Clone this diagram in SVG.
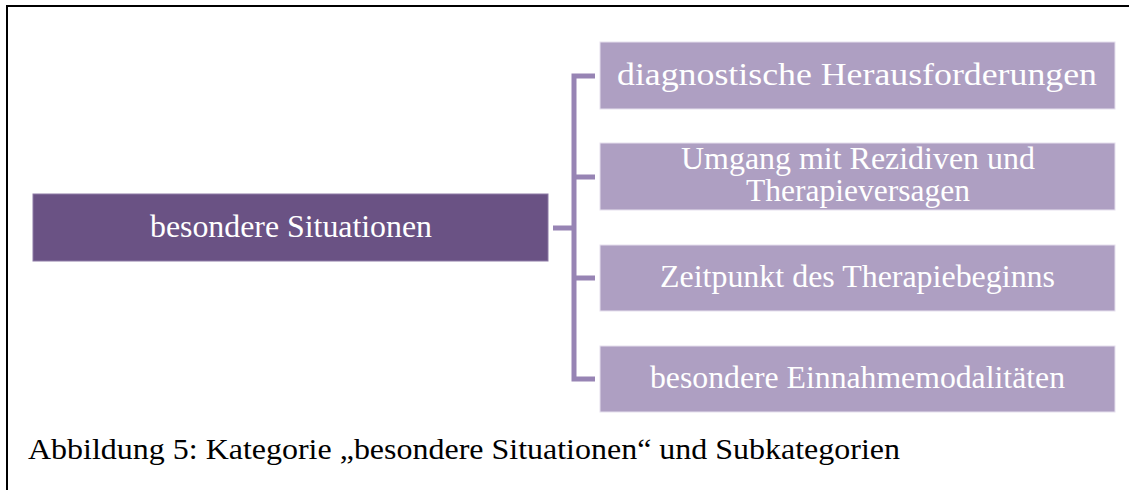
<svg xmlns="http://www.w3.org/2000/svg" width="1129" height="490" viewBox="0 0 1129 490">
<style>
.t{font-family:"Liberation Serif","Times New Roman",serif;font-size:32px;fill:#ffffff;text-anchor:middle}
.child{fill:#ae9fc2;stroke:#e6e0ee;stroke-width:1}
.conn{fill:none;stroke:#9784b4;stroke-width:5}
.cap{font-family:"Liberation Serif","Times New Roman",serif;font-size:30px;fill:#000000}
</style>
<rect width="1129" height="490" fill="#ffffff"/>
<g id="frame">
<line x1="6" y1="6" x2="1129" y2="6" stroke="#000" stroke-width="2"/>
<line x1="7" y1="5" x2="7" y2="490" stroke="#000" stroke-width="2"/>
</g>
<g id="connectors">
<path class="conn" d="M553 228 H574 M595 76 H574 V379 H595 M574 177 H595 M574 278 H595"/>
</g>
<g id="root">
<rect x="33" y="194" width="515" height="67" fill="#6a5284" stroke="#8d7aa6" stroke-width="1"/>
<text class="t" x="291" y="237" textLength="282" lengthAdjust="spacingAndGlyphs">besondere Situationen</text>
</g>
<g id="n1">
<rect class="child" x="600" y="42" width="515" height="67"/>
<text class="t" x="857" y="85" textLength="480" lengthAdjust="spacingAndGlyphs">diagnostische Herausforderungen</text>
</g>
<g id="n2">
<rect class="child" x="600" y="143" width="515" height="67"/>
<text class="t" x="858" y="169" textLength="354" lengthAdjust="spacingAndGlyphs">Umgang mit Rezidiven und</text>
<text class="t" x="858" y="201" textLength="224" lengthAdjust="spacingAndGlyphs">Therapieversagen</text>
</g>
<g id="n3">
<rect class="child" x="600" y="245" width="515" height="66"/>
<text class="t" x="857.5" y="287" textLength="395" lengthAdjust="spacingAndGlyphs">Zeitpunkt des Therapiebeginns</text>
</g>
<g id="n4">
<rect class="child" x="600" y="346" width="515" height="66"/>
<text class="t" x="857.5" y="388" textLength="415" lengthAdjust="spacingAndGlyphs">besondere Einnahmemodalitäten</text>
</g>
<g id="caption">
<text class="cap" x="28" y="459" textLength="872" lengthAdjust="spacingAndGlyphs">Abbildung 5: Kategorie „besondere Situationen“ und Subkategorien</text>
</g>
</svg>
